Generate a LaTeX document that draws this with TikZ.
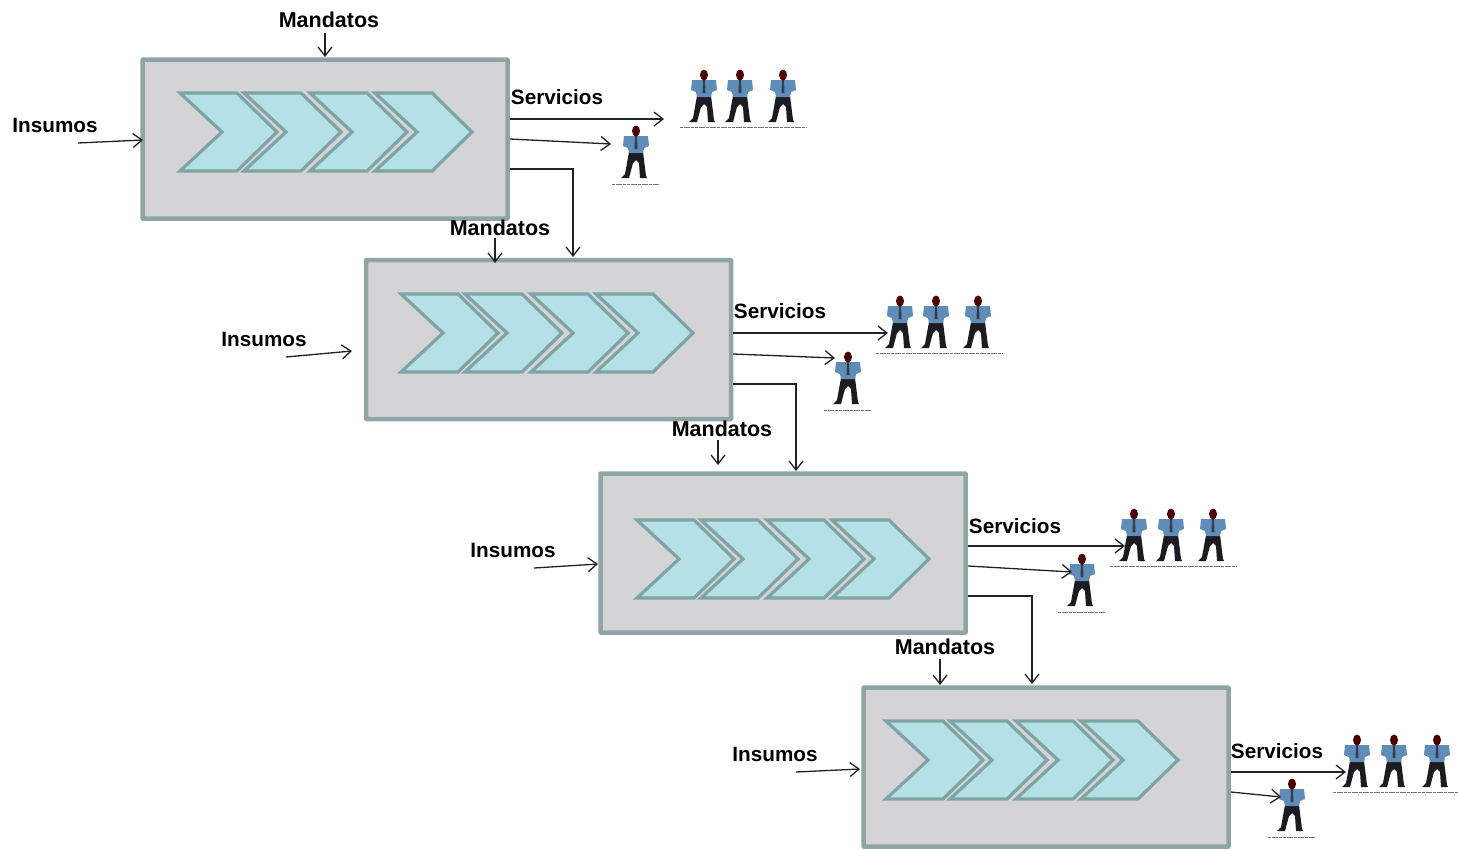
\documentclass[tikz,border=0pt]{standalone}
\usepackage{fontspec}
\setmainfont{Liberation Sans}
\usetikzlibrary{arrows.meta}
\definecolor{edgeg}{HTML}{8FA5A5}
\definecolor{boxg}{HTML}{D4D4D6}
\definecolor{chevf}{HTML}{B4E0E6}
\definecolor{chevl}{HTML}{7FA4A6}
\definecolor{shirt}{HTML}{5F8DB8}
\definecolor{legs}{HTML}{1C1C20}
\definecolor{linek}{HTML}{222222}
\tikzset{
  x=1pt,y=-1pt,
  procbox/.style={draw=edgeg,line width=4.5pt,fill=boxg,minimum width=365pt,minimum height=159pt,inner sep=0pt,rounded corners=.5pt},
  lab/.style={font=\fontsize{20.7}{22}\selectfont\bfseries,text=black,inner sep=0pt,anchor=center},
  mandlab/.style={font=\fontsize{21.5}{22}\selectfont\bfseries,text=black,inner sep=0pt,anchor=center},
  flow/.style={draw=linek,line width=1.3pt,-{Straight Barb[length=9pt,width=14pt,line width=1.3pt]}},
  pics/chevron/.style={code={
    \path[draw=chevl,line width=3.2pt,fill=chevf,line join=miter]
      (0,0)--(57,0)--(97,39)--(57,78)--(0,78)--(42,39)--cycle;}},
  pics/person/.style={code={
    \fill[legs] (-7,0)--(7,0)--(10,24)--(11,26)--(4,26)--(3,11)--(0,8)--(-3,11)--(-7,26)--(-15,26)--(-11,22)--cycle;
    \fill[shirt] (-12,-16)--(12,-16)--(13,-6)--(8,-4)--(7,1)--(-7,1)--(-8,-4)--(-13,-6)--cycle;
    \fill[legs!70!shirt] (-1,-16)--(1,-16)--(1.5,-3)--(-1.5,-3)--cycle;
    \fill[black!70!red] (0,-21) circle[x radius=4,y radius=5.5];
  }},
  pics/underrule/.style={code={\draw[black!55,line width=1pt,dash pattern=on 3pt off .7pt] (-24,0)--(24,0);}}
}
\newcommand{\trio}[4]{%
  \pic at (#1,#4) {person};\pic at (#2,#4) {person};\pic at (#3,#4) {person};
  \draw[black!55,line width=1pt,dash pattern=on 3pt off .7pt] ([xshift=-24pt]#1,#4+31)--([xshift=24pt]#3,#4+31);}
\newcommand{\single}[2]{\pic at (#1,#2) {person};\pic at (#1,#2+32) {underrule};}
\newcommand{\chevs}[2]{%
  \pic at (#1,#2) {chevron};\pic at (#1+64,#2) {chevron};\pic at (#1+130,#2) {chevron};\pic at (#1+195,#2) {chevron};}
\begin{document}
\begin{tikzpicture}
\useasboundingbox (0,0) rectangle (1458,849);
\fill[white] (0,0) rectangle (1458,849);
% boxes
\node[procbox] (b1) at (325,139) {};
\node[procbox] (b2) at (548.5,339.5) {};
\node[procbox] (b3) at (783,553) {};
\node[procbox] (b4) at (1046,767) {};
\chevs{180}{93}\chevs{401}{294}\chevs{637}{520}\chevs{886}{721}
% people
\trio{704}{740}{783}{96}\single{636}{152}
\trio{900}{936}{978}{322}\single{848}{378}
\trio{1134}{1171}{1213}{535}\single{1082}{580}
\trio{1357}{1394}{1437}{761}\single{1292}{805}
% labels
\node[mandlab] (m1) at (329,20) {Mandatos};
\node[mandlab] (m2) at (500,228) {Mandatos};
\node[mandlab] (m3) at (722,429) {Mandatos};
\node[mandlab] (m4) at (945,647) {Mandatos};
\node[lab] (i1) at (55,125) {Insumos};
\node[lab] (i2) at (264,339) {Insumos};
\node[lab] (i3) at (513,550) {Insumos};
\node[lab] (i4) at (775,754) {Insumos};
\node[lab] (s1) at (557,97) {Servicios};
\node[lab] (s2) at (780,311) {Servicios};
\node[lab] (s3) at (1015,526) {Servicios};
\node[lab] (s4) at (1277,751) {Servicios};
% free ends
\foreach \n/\x/\y in {
 a1/325/33,a2/325/57,a3/78/143,a4/143/140,a5/510/119,a6/664/119,a7/510/139,a8/611/144,a9/510/169,a10/573/257,
 c1/495/238,c2/495/263,c3/286/357,c4/352/351,c5/733/333,c6/888/333,c7/733/354,c8/835/358,c9/733/384,c10/796/471,
 d1/718/440,d2/718/465,d3/534/568,d4/598/564,d5/968/546,d6/1125/546,d7/968/566,d8/1072/572,d9/968/596,d10/1032/684,
 e1/940/659,e2/940/685,e3/796/772,e4/860/769,e5/1231/772,e6/1346/772,e7/1231/792,e8/1281/797}
 {\coordinate (\n) at (\x,\y);}
\foreach \p in {a,c,d,e}{
 \draw[flow] (\p1)--(\p2);
 \draw[flow] (\p3)--(\p4);
 \draw[flow] (\p5)--(\p6);
 \draw[flow] (\p7)--(\p8);
}
\foreach \p in {a,c,d}{\draw[flow] (\p9)-|(\p10);}
\end{tikzpicture}
\end{document}
